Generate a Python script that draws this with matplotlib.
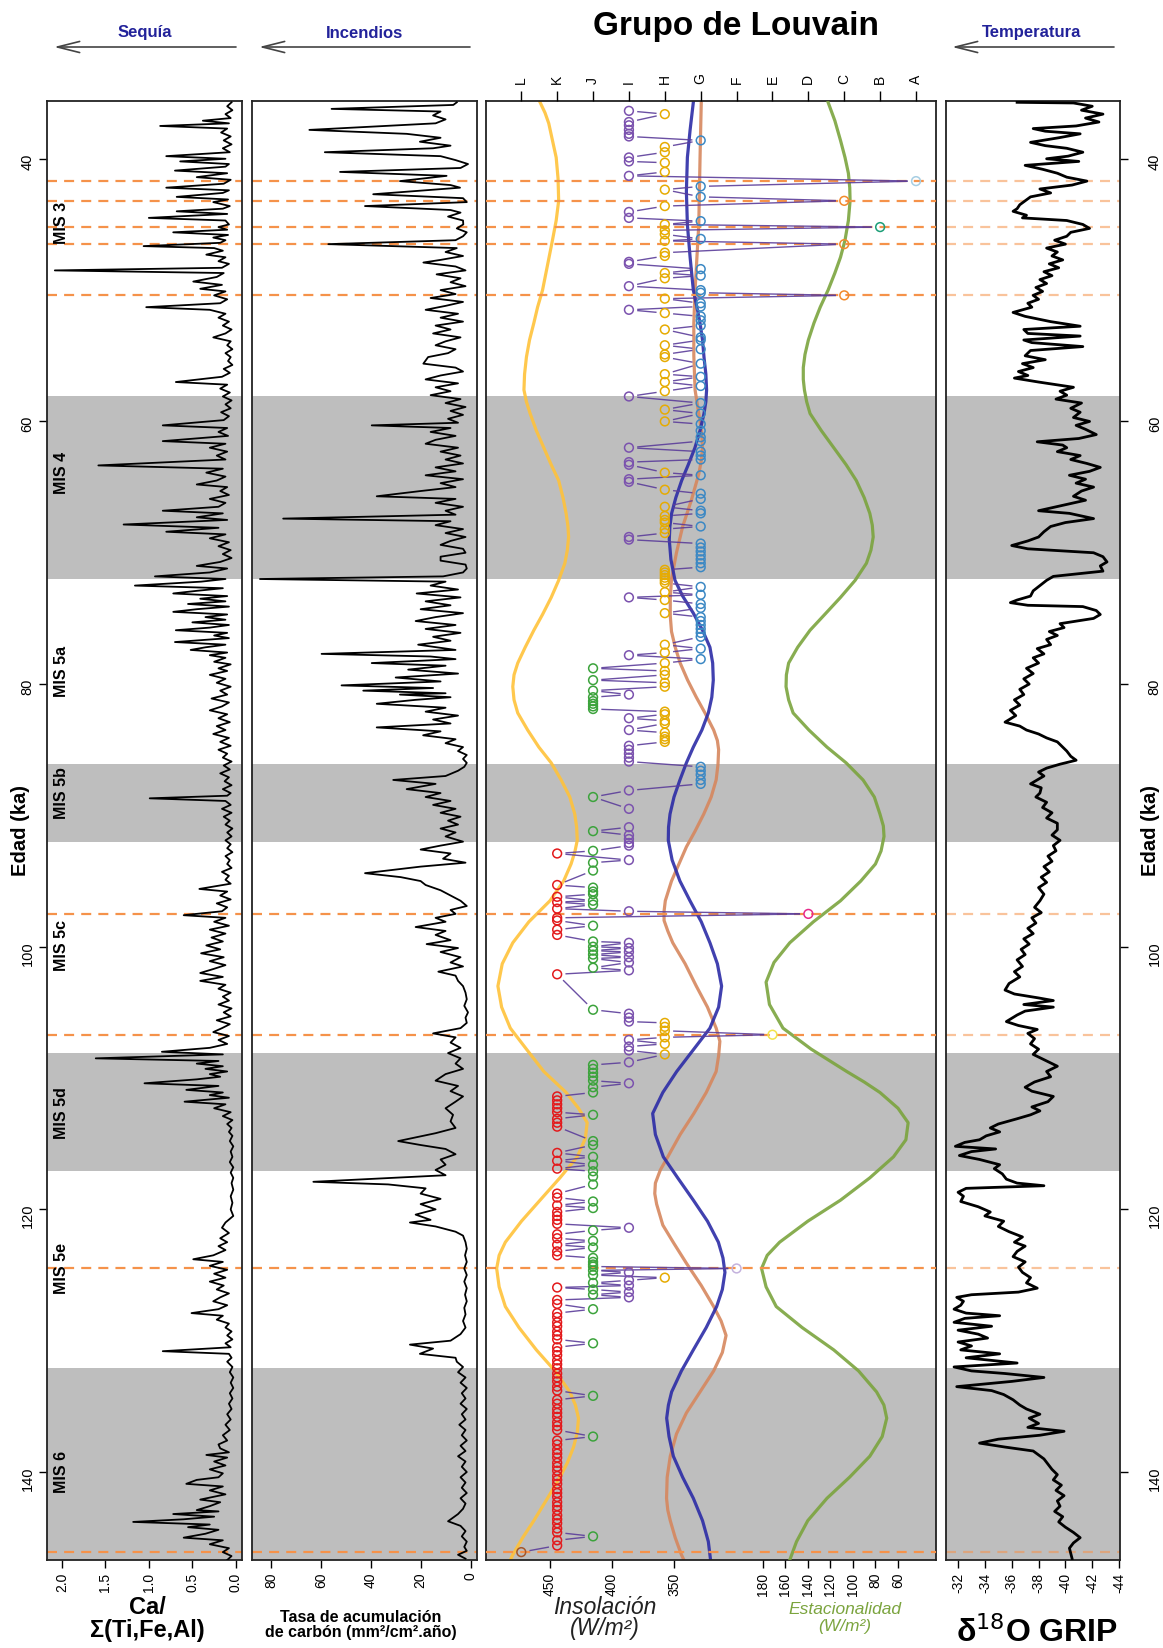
import numpy as np
import matplotlib.pyplot as plt

plt.rcParams['font.family'] = ['Liberation Sans', 'DejaVu Sans']
plt.rcParams['axes.unicode_minus'] = False

W, H = 1163, 1648
TOP, BOT = 101, 1560
AGE_LIM = (146.7, 35.6)

# --- Ca / sum(Ti,Fe,Al) ---
ca_age = [35.7, 36.0, 36.3, 36.6, 36.9, 37.1, 37.3, 37.5, 37.7, 38.0,
          38.3, 38.6, 38.9, 39.2, 39.5, 39.8, 40.0, 40.2, 40.4, 40.6,
          40.9, 41.1, 41.4, 41.6, 41.9, 42.2, 42.4, 42.6, 42.9, 43.1,
          43.3, 43.6, 43.8, 44.0, 44.2, 44.5, 44.7, 45.0, 45.2, 45.4,
          45.6, 45.8, 46.0, 46.2, 46.4, 46.65, 46.8, 47.0, 47.3, 47.5,
          47.8, 48.0, 48.3, 48.5, 48.7, 49.0, 49.35, 49.6, 49.9, 50.1,
          50.4, 50.7, 51.0, 51.3, 51.5, 51.8, 52.1, 52.4, 52.7, 53.0,
          53.3, 53.6, 53.9, 54.2, 54.5, 54.8, 55.1, 55.4, 55.7, 56.0,
          56.3, 56.6, 57.0, 57.2, 57.5, 57.8, 58.1, 58.4, 58.7, 59.0,
          59.3, 59.6, 59.9, 60.3, 60.5, 60.8, 61.1, 61.5, 61.7, 62.0,
          62.3, 62.6, 62.9, 63.35, 63.6, 63.9, 64.2, 64.5, 64.8, 65.0,
          65.3, 65.6, 65.9, 66.2, 66.5, 66.8, 67.0, 67.3, 67.5, 67.85,
          68.1, 68.4, 68.6, 68.9, 69.2, 69.5, 69.8, 70.1, 70.4, 70.7,
          71.0, 71.2, 71.5, 71.8, 72.0, 72.2, 72.5, 72.7, 72.9, 73.1,
          73.3, 73.5, 73.7, 73.9, 74.1, 74.3, 74.5, 74.7, 74.9, 75.1,
          75.3, 75.5, 75.7, 75.9, 76.1, 76.3, 76.5, 76.8, 77.0, 77.2,
          77.4, 77.6, 77.8, 78.0, 78.3, 78.5, 78.8, 79.0, 79.3, 79.6,
          79.9, 80.2, 80.5, 80.8, 81.1, 81.4, 81.7, 82.0, 82.3, 82.6,
          82.9, 83.2, 83.5, 83.8, 84.1, 84.4, 84.7, 85.0, 85.3, 85.6,
          85.9, 86.2, 86.5, 86.8, 87.1, 87.4, 87.7, 88.0, 88.3, 88.5,
          88.7, 88.9, 89.2, 89.5, 89.8, 90.1, 90.4, 90.7, 91.0, 91.3,
          91.6, 91.9, 92.2, 92.5, 92.8, 93.1, 93.4, 93.7, 94.0, 94.3,
          94.6, 94.9, 95.2, 95.6, 95.8, 96.1, 96.4, 96.7, 97.0, 97.3,
          97.6, 97.8, 98.1, 98.4, 98.7, 99.0, 99.3, 99.6, 99.9, 100.2,
          100.5, 100.8, 101.1, 101.4, 101.7, 102.0, 102.3, 102.6, 102.9, 103.2,
          103.5, 103.8, 104.1, 104.4, 104.7, 105.0, 105.3, 105.6, 105.9, 106.2,
          106.5, 106.8, 107.1, 107.4, 107.7, 108.0, 108.2, 108.5, 108.7, 108.9,
          109.1, 109.3, 109.5, 109.7, 109.9, 110.1, 110.4, 110.6, 110.9, 111.1,
          111.3, 111.5, 111.8, 112.0, 112.3, 112.6, 112.9, 113.2, 113.5, 113.8,
          114.1, 114.4, 114.8, 115.2, 115.6, 116.0, 116.4, 116.8, 117.2, 117.6,
          118.0, 118.5, 119.0, 119.5, 120.0, 120.5, 121.0, 121.4, 121.8, 122.2,
          122.5, 122.8, 123.1, 123.5, 123.8, 124.0, 124.3, 124.6, 124.9, 125.2,
          125.5, 125.8, 126.1, 126.4, 126.7, 127.0, 127.3, 127.6, 127.9, 128.1,
          128.4, 128.7, 129.0, 129.3, 129.6, 129.9, 130.2, 130.5, 130.8, 131.0,
          131.3, 131.6, 132.0, 132.4, 132.8, 133.2, 133.6, 134.0, 134.4, 134.8,
          135.2, 135.6, 136.0, 136.4, 136.8, 137.2, 137.6, 137.9, 138.2, 138.5,
          138.7, 138.9, 139.2, 139.5, 139.8, 140.1, 140.4, 140.6, 140.9, 141.1,
          141.4, 141.7, 142.1, 142.3, 142.6, 142.9, 143.0, 143.2, 143.4, 143.6,
          143.8, 144.0, 144.2, 144.4, 144.7, 145.0, 145.2, 145.5, 145.8, 146.1,
          146.4, 146.7]
ca_val = [0.05, 0.10, 0.04, 0.12, 0.06, 0.38, 0.08, 0.87, 0.10, 0.17,
          0.06, 0.14, 0.05, 0.15, 0.07, 0.80, 0.12, 0.64, 0.08, 0.12,
          0.70, 0.10, 0.45, 0.06, 0.14, 0.80, 0.08, 0.15, 0.68, 0.09,
          0.26, 0.07, 0.15, 0.68, 0.10, 1.00, 0.12, 0.08, 0.20, 0.10,
          0.72, 0.09, 0.26, 0.12, 0.18, 1.06, 0.25, 0.15, 0.34, 0.12,
          0.20, 0.08, 0.16, 2.08, 0.14, 0.22, 0.49, 0.16, 0.41, 0.12,
          0.25, 0.10, 0.18, 1.03, 0.30, 0.12, 0.20, 0.08, 0.15, 0.05,
          0.12, 0.26, 0.06, 0.10, 0.04, 0.12, 0.06, 0.09, 0.04, 0.14,
          0.07, 0.16, 0.69, 0.10, 0.18, 0.07, 0.15, 0.05, 0.12, 0.06,
          0.17, 0.08, 0.14, 0.84, 0.10, 0.20, 0.09, 0.84, 0.12, 0.30,
          0.10, 0.22, 0.12, 1.58, 0.15, 0.34, 0.12, 0.22, 0.45, 0.10,
          0.18, 0.08, 0.30, 0.12, 0.20, 0.84, 0.15, 0.45, 0.10, 1.29,
          0.20, 0.80, 0.12, 0.30, 0.08, 0.20, 0.06, 0.15, 0.05, 0.18,
          0.45, 0.10, 0.30, 0.93, 0.12, 0.40, 1.16, 0.15, 0.45, 0.72,
          0.10, 0.41, 0.12, 0.55, 0.08, 0.45, 0.72, 0.10, 0.35, 0.12,
          0.50, 0.08, 0.30, 0.69, 0.10, 0.25, 0.08, 0.70, 0.12, 0.35,
          0.52, 0.10, 0.30, 0.12, 0.25, 0.06, 0.20, 0.10, 0.30, 0.12,
          0.22, 0.06, 0.18, 0.10, 0.28, 0.08, 0.16, 0.30, 0.10, 0.20,
          0.07, 0.22, 0.12, 0.26, 0.08, 0.18, 0.06, 0.20, 0.10, 0.15,
          0.05, 0.14, 0.07, 0.18, 0.08, 0.13, 0.05, 0.15, 0.06, 0.10,
          0.99, 0.12, 0.06, 0.16, 0.05, 0.14, 0.07, 0.12, 0.04, 0.10,
          0.05, 0.12, 0.06, 0.10, 0.04, 0.12, 0.07, 0.10, 0.05, 0.16,
          0.08, 0.12, 0.06, 0.42, 0.10, 0.18, 0.06, 0.22, 0.10, 0.16,
          0.60, 0.12, 0.25, 0.08, 0.30, 0.12, 0.28, 0.15, 0.34, 0.18,
          0.40, 0.14, 0.30, 0.12, 0.26, 0.41, 0.15, 0.41, 0.12, 0.20,
          0.06, 0.15, 0.08, 0.20, 0.05, 0.14, 0.06, 0.22, 0.07, 0.16,
          0.26, 0.08, 0.20, 0.10, 0.30, 0.85, 0.15, 1.61, 0.20, 0.45,
          0.15, 0.35, 0.10, 0.30, 0.18, 0.45, 1.05, 0.20, 0.57, 0.15,
          0.30, 0.08, 0.59, 0.12, 0.25, 0.06, 0.15, 0.04, 0.10, 0.05,
          0.08, 0.04, 0.07, 0.03, 0.06, 0.04, 0.07, 0.03, 0.06, 0.03,
          0.05, 0.03, 0.06, 0.04, 0.06, 0.03, 0.12, 0.16, 0.08, 0.18,
          0.10, 0.20, 0.12, 0.26, 0.49, 0.15, 0.30, 0.10, 0.25, 0.12,
          0.30, 0.14, 0.22, 0.08, 0.18, 0.26, 0.10, 0.20, 0.51, 0.15,
          0.22, 0.08, 0.12, 0.05, 0.10, 0.04, 0.12, 0.06, 0.84, 0.08,
          0.05, 0.10, 0.04, 0.07, 0.03, 0.06, 0.03, 0.07, 0.04, 0.08,
          0.05, 0.10, 0.06, 0.12, 0.07, 0.15, 0.10, 0.20, 0.18, 0.08,
          0.34, 0.10, 0.25, 0.12, 0.30, 0.15, 0.20, 0.45, 0.57, 0.15,
          0.30, 0.12, 0.41, 0.18, 0.30, 0.45, 0.20, 0.72, 0.25, 0.60,
          1.18, 0.30, 0.55, 0.20, 0.35, 0.60, 0.15, 0.30, 0.08, 0.15,
          0.05, 0.10]

# --- charcoal accumulation rate ---
carb_age = [35.7, 35.9, 36.2, 36.4, 36.7, 37.0, 37.3, 37.8, 38.1, 38.4,
            38.7, 39.0, 39.2, 39.5, 39.8, 40.1, 40.4, 40.7, 41.0, 41.3,
            41.7, 42.0, 42.2, 42.7, 43.0, 43.3, 43.6, 43.9, 44.1, 44.4,
            44.7, 45.0, 45.3, 45.6, 45.9, 46.2, 46.5, 46.8, 47.1, 47.4,
            47.7, 47.9, 48.2, 48.5, 48.8, 49.1, 49.4, 49.7, 50.0, 50.3,
            50.6, 50.9, 51.2, 51.5, 51.8, 52.1, 52.4, 52.7, 53.0, 53.3,
            53.6, 53.9, 54.2, 54.5, 54.8, 55.1, 55.6, 55.9, 56.2, 56.5,
            56.8, 57.1, 57.4, 57.7, 58.0, 58.3, 58.6, 58.9, 59.2, 59.5,
            59.8, 60.1, 60.3, 60.5, 60.8, 61.1, 61.4, 61.7, 62.0, 62.3,
            62.6, 62.9, 63.2, 63.5, 63.8, 64.1, 64.4, 64.7, 65.0, 65.3,
            65.7, 65.9, 66.2, 66.5, 66.8, 67.1, 67.4, 67.6, 67.9, 68.2,
            68.5, 68.8, 69.1, 69.4, 69.7, 70.0, 70.3, 70.6, 70.9, 71.2,
            71.5, 71.8, 72.0, 72.2, 72.5, 72.8, 73.1, 73.4, 73.7, 74.0,
            74.3, 74.6, 74.9, 75.2, 75.5, 75.8, 76.1, 76.4, 76.7, 77.0,
            77.4, 77.7, 77.9, 78.1, 78.4, 78.6, 78.9, 79.2, 79.5, 79.8,
            80.1, 80.3, 80.5, 80.7, 80.8, 81.0, 81.2, 81.5, 81.8, 82.1,
            82.4, 82.7, 83.0, 83.3, 83.6, 83.9, 84.2, 84.5, 84.8, 85.1,
            85.4, 85.7, 86.0, 86.3, 86.6, 87.0, 87.3, 87.6, 88.0, 88.3,
            88.6, 88.9, 89.2, 89.5, 89.8, 90.1, 90.4, 90.7, 91.0, 91.3,
            91.6, 92.0, 92.3, 92.6, 92.9, 93.3, 93.6, 93.9, 94.4, 94.7,
            95.0, 95.3, 95.7, 96.1, 96.5, 96.9, 97.2, 97.5, 97.8, 98.1,
            98.5, 98.8, 99.1, 99.5, 99.8, 100.1, 100.4, 100.8, 101.2, 101.5,
            101.9, 102.2, 102.6, 103.0, 103.5, 104.0, 104.5, 105.0, 105.4, 105.8,
            106.2, 106.6, 106.9, 107.3, 107.7, 108.1, 108.5, 108.9, 109.3, 109.7,
            110.2, 110.6, 111.0, 111.4, 111.8, 112.3, 112.8, 113.3, 113.8, 114.2,
            114.8, 115.1, 115.4, 115.8, 116.2, 116.6, 117.0, 117.4, 117.9, 118.1,
            118.4, 118.8, 119.2, 119.6, 120.0, 120.4, 120.8, 121.0, 121.3, 121.7,
            122.0, 122.5, 123.0, 123.5, 124.0, 124.5, 125.0, 125.5, 126.0, 126.5,
            127.0, 127.5, 128.0, 128.5, 129.0, 129.5, 130.0, 130.3, 130.6, 131.0,
            131.3, 131.6, 132.0, 132.4, 132.8, 133.2, 133.6, 134.0, 134.4, 134.8,
            135.2, 135.6, 136.0, 136.4, 136.8, 137.2, 137.6, 138.0, 138.4, 138.8,
            139.2, 139.6, 140.0, 140.4, 140.8, 141.2, 141.6, 142.0, 142.4, 142.8,
            143.2, 143.75, 144.1, 144.5, 144.9, 145.3, 145.7, 146.0, 146.3, 146.6]
carb_val = [5.5, 6.9, 55.7, 12, 15, 10, 14, 64.6, 25.6, 12,
            20.3, 8, 15, 58.4, 12, 6, 1, 4, 52.3, 9.6,
            28.3, 8, 4.2, 39.0, 3, 1.5, 42.3, 8, 4, 9,
            3, 2.9, 5.5, 1.5, 3, 6, 57.0, 5.5, 10, 3,
            12, 18.9, 6, 2, 13.6, 4, 8, 2, 12, 6,
            16, 3, 10, 18, 5, 12, 3, 14, 8, 15,
            4, 10, 14, 6, 9, 17, 18.9, 6, 3, 12,
            18, 5, 14, 8, 16, 4, 10, 2, 8, 3,
            9, 5, 39.6, 8, 16, 6, 14, 18, 5, 12,
            4, 10, 3, 14, 6, 18, 3, 12, 6, 20,
            37.6, 6, 14, 3, 10, 6, 75.1, 8, 14, 3,
            10, 2, 8, 12, 3, 2, 12, 12, 2, 1.5,
            3, 11, 84.4, 10, 16, 5, 21.6, 4, 18, 8,
            20, 3, 14, 22, 6, 18, 4, 15, 8, 21,
            6, 59.7, 16, 6, 39.6, 10, 25, 5, 30, 12,
            51.7, 15, 43.0, 10, 28.3, 8, 22, 37.6, 10, 18,
            5, 15, 8, 37.6, 12, 19, 6, 10, 3, 5,
            1.5, 3, 1.5, 2.5, 5, 10, 31.0, 14, 25.6, 12,
            18, 8, 15, 6, 12, 4, 9, 5, 12, 6,
            10, 3, 12, 20, 8, 11, 2, 20, 42.3, 28,
            20, 18, 12, 8, 4, 1.5, 8, 6, 14, 10,
            22, 10, 14, 8, 17.6, 5, 12, 4, 8, 3,
            12.9, 6, 5, 3, 2, 1.5, 2.5, 1, 2, 1.5,
            4, 15, 6, 8, 4, 9, 4, 6, 3, 10,
            14, 5, 8, 3, 6, 10, 7, 8, 6, 14,
            29, 20, 10, 6, 12, 10, 14, 10, 63.0, 33,
            18, 20, 12, 20, 14, 22, 16, 24.3, 14, 6,
            3, 2, 1.5, 2.2, 1.5, 2.5, 1.5, 2.5, 1.5, 2.2,
            1.5, 2.5, 2, 3, 2, 4, 8, 24.3, 15, 20.3,
            6, 5.5, 3, 5, 2, 4, 1.5, 3.5, 2, 4,
            1.5, 3.5, 2, 4.5, 2, 3.5, 1.5, 4, 2, 5,
            2, 3.5, 1.5, 4, 2, 3.5, 1.5, 4, 2, 3,
            5, 9, 4, 2, 3.5, 1.5, 2.5, 1.5, 5, 2]

# --- GRIP d18O ---
grip_age = [35.7, 35.75, 36.0, 36.3, 36.6, 36.9, 37.2, 37.5, 37.7, 37.9,
            38.1, 38.4, 38.75, 39.0, 39.2, 39.5, 39.8, 40.0, 40.2, 40.5,
            40.8, 41.1, 41.4, 41.7, 42.0, 42.3, 42.6, 42.9, 43.2, 43.5,
            43.8, 44.0, 44.3, 44.5, 44.7, 45.0, 45.3, 45.6, 45.9, 46.2,
            46.5, 46.8, 47.1, 47.4, 47.7, 48.0, 48.3, 48.6, 48.9, 49.2,
            49.5, 49.8, 50.1, 50.4, 50.7, 51.0, 51.3, 51.7, 52.0, 52.4,
            52.75, 53.0, 53.3, 53.5, 53.8, 54.0, 54.3, 54.6, 55.0, 55.3,
            55.6, 55.9, 56.2, 56.5, 56.7, 57.0, 57.4, 57.7, 58.0, 58.3,
            58.6, 59.0, 59.3, 59.7, 60.0, 60.3, 60.6, 61.0, 61.3, 61.55,
            61.8, 62.0, 62.3, 62.6, 62.9, 63.2, 63.5, 63.8, 64.1, 64.4,
            64.7, 65.0, 65.3, 65.7, 66.0, 66.3, 66.8, 67.0, 67.4, 67.7,
            68.0, 68.4, 68.8, 69.1, 69.45, 69.7, 70.0, 70.3, 70.7, 71.0,
            71.4, 71.8, 72.1, 72.5, 72.9, 73.3, 73.6, 73.8, 74.0, 74.1,
            74.4, 74.7, 75.0, 75.4, 75.7, 76.0, 76.3, 76.6, 77.0, 77.3,
            77.7, 78.0, 78.4, 78.8, 79.2, 79.6, 80.0, 80.4, 80.8, 81.2,
            81.6, 82.0, 82.4, 82.9, 83.2, 83.5, 83.8, 84.1, 84.4, 84.8,
            85.1, 85.5, 85.8, 86.1, 86.4, 86.7, 87.0, 87.3, 87.6, 87.9,
            88.3, 88.6, 89.0, 89.4, 89.8, 90.2, 90.6, 91.1, 91.5, 91.9,
            92.3, 92.7, 93.1, 93.5, 93.9, 94.3, 94.7, 95.1, 95.5, 96.0,
            96.5, 97.0, 97.4, 97.8, 98.2, 98.6, 99.0, 99.4, 99.8, 100.2,
            100.6, 101.0, 101.5, 101.9, 102.3, 102.8, 103.3, 103.6, 103.9, 104.1,
            104.4, 104.6, 104.9, 105.2, 105.7, 106.0, 106.3, 106.6, 107.0, 107.4,
            107.8, 108.2, 108.6, 109.1, 109.5, 109.9, 110.3, 110.7, 111.0, 111.4,
            111.8, 112.2, 112.5, 112.8, 113.1, 113.5, 113.8, 114.1, 114.4, 114.7,
            114.9, 115.2, 115.4, 115.6, 115.9, 116.2, 116.6, 116.9, 117.3, 117.7,
            118.0, 118.2, 118.4, 118.7, 119.0, 119.4, 119.8, 120.2, 120.5, 120.9,
            121.3, 121.7, 122.1, 122.5, 122.8, 123.2, 123.6, 124.0, 124.4, 124.8,
            125.2, 125.6, 126.0, 126.3, 126.5, 126.7, 127.0, 127.3, 127.6, 127.9,
            128.1, 128.3, 128.6, 128.9, 129.2, 129.5, 129.8, 130.1, 130.4, 130.7,
            131.0, 131.3, 131.7, 132.0, 132.3, 132.5, 132.8, 133.1, 133.5, 133.8,
            134.1, 134.5, 134.9, 135.2, 135.6, 135.9, 136.3, 136.6, 136.9, 137.2,
            137.5, 137.8, 138.1, 138.4, 138.7, 139.0, 139.4, 139.8, 140.2, 140.6,
            141.0, 141.4, 141.8, 142.2, 142.6, 143.0, 143.4, 143.8, 144.2, 144.6,
            145.0, 145.4, 145.8, 146.2, 146.6]
grip_val = [-36.4, -40.6, -42.0, -41.2, -42.8, -41.5, -42.5, -40.8, -37.6, -38.5,
            -41.1, -39.5, -37.4, -38.5, -40.1, -41.3, -40.2, -38.6, -41.0, -37.0,
            -38.3, -39.4, -40.1, -41.6, -40.5, -38.1, -38.9, -37.4, -37.0, -36.6,
            -36.4, -36.1, -37.1, -36.8, -40.1, -41.3, -41.8, -40.4, -40.1, -39.2,
            -40.0, -38.6, -39.4, -39.0, -39.8, -38.8, -39.5, -38.4, -39.0, -38.1,
            -38.6, -37.8, -38.3, -37.6, -38.0, -37.2, -37.5, -36.1, -37.0, -38.9,
            -41.1, -36.9, -37.2, -41.1, -36.9, -37.5, -41.3, -37.4, -37.0, -38.5,
            -36.8, -37.6, -36.5, -37.2, -36.2, -38.0, -40.6, -39.6, -40.1, -39.3,
            -41.2, -40.4, -41.1, -40.6, -41.8, -40.8, -41.5, -42.3, -41.0, -37.9,
            -39.8, -40.1, -39.4, -41.1, -40.4, -41.6, -42.6, -41.8, -40.3, -41.5,
            -40.8, -42.1, -41.2, -40.6, -41.5, -40.2, -38.0, -40.3, -42.1, -40.0,
            -38.9, -38.4, -38.0, -37.2, -36.0, -37.2, -42.1, -42.8, -43.1, -42.6,
            -42.8, -39.1, -38.6, -38.1, -37.6, -37.4, -36.4, -35.9, -37.2, -41.3,
            -42.3, -42.6, -42.1, -39.6, -39.9, -38.8, -39.4, -38.6, -38.9, -37.9,
            -38.4, -37.6, -38.0, -37.1, -37.6, -36.9, -37.3, -36.6, -36.9, -36.2,
            -36.6, -35.9, -36.3, -35.5, -36.6, -37.1, -38.0, -38.6, -39.4, -39.8,
            -40.1, -40.4, -40.8, -39.6, -38.6, -38.0, -38.4, -37.9, -37.4, -38.2,
            -38.1, -37.8, -38.6, -38.3, -39.0, -38.6, -39.4, -39.4, -39.0, -39.6,
            -39.1, -39.3, -38.7, -39.0, -38.4, -38.8, -38.2, -38.6, -38.0, -38.4,
            -38.1, -37.7, -38.2, -37.5, -37.8, -37.2, -37.6, -36.9, -37.3, -36.7,
            -37.0, -36.4, -36.8, -36.2, -36.6, -35.8, -35.5, -36.2, -38.0, -39.1,
            -36.9, -39.1, -37.0, -36.4, -35.6, -36.5, -37.9, -37.2, -37.7, -37.4,
            -38.0, -37.6, -38.4, -39.4, -38.6, -38.9, -37.7, -37.0, -37.5, -39.1,
            -38.7, -37.5, -38.1, -37.4, -36.4, -35.0, -34.4, -35.1, -34.1, -33.6,
            -32.5, -31.8, -34.8, -33.0, -32.1, -33.6, -35.1, -34.7, -35.3, -35.6,
            -36.4, -38.4, -32.6, -32.0, -32.4, -32.2, -33.5, -34.4, -34.0, -35.4,
            -35.0, -35.8, -36.8, -36.2, -37.0, -36.4, -36.1, -37.0, -36.5, -36.8,
            -37.4, -37.1, -37.9, -36.5, -33.0, -31.9, -32.4, -32.2, -31.7, -32.6,
            -35.1, -32.5, -31.7, -34.5, -32.0, -33.5, -34.2, -32.0, -33.0, -32.2,
            -35.1, -32.6, -36.4, -31.7, -33.0, -35.5, -38.4, -36.0, -31.9, -34.5,
            -35.4, -36.1, -36.6, -37.1, -38.1, -37.3, -38.0, -37.2, -39.9, -38.1,
            -35.0, -33.6, -35.5, -37.6, -38.0, -38.4, -38.7, -39.0, -39.4, -39.1,
            -39.7, -39.3, -39.9, -39.4, -39.6, -39.2, -39.8, -39.5, -40.0, -40.6,
            -41.1, -40.6, -40.3, -40.4, -40.5]

# --- Louvain insolation (W/m2) ---
insa_age = [35.7, 36.5, 37.3, 38.6, 39.9, 41.5, 43.2, 44.7, 46.2, 48.1,
            50.0, 51.3, 52.5, 53.8, 55.1, 56.4, 57.6, 58.5, 59.4, 60.7,
            62.0, 63.3, 64.5, 65.8, 67.0, 68.0, 68.8, 69.8, 70.8, 72.1,
            73.4, 74.7, 75.9, 77.2, 78.4, 79.3, 80.2, 81.2, 82.2, 83.5,
            84.8, 86.0, 87.3, 88.6, 89.9, 90.9, 91.9, 92.8, 93.7, 95.0,
            96.5, 98.1, 99.7, 101.3, 103.0, 104.6, 106.2, 107.8, 109.5, 111.1,
            112.3, 113.4, 114.6, 116.0, 117.6, 119.3, 120.9, 122.5, 123.5, 124.5,
            125.9, 127.4, 129.0, 130.7, 132.3, 133.9, 134.9, 135.9, 137.0, 138.1,
            139.3, 140.4, 142.0, 143.7, 145.0, 146.3, 146.7]
insa_val = [458, 454, 451, 448, 445, 443.5, 443, 445, 448, 452,
            456, 460, 463, 466.5, 469, 470.5, 471, 469, 466, 461,
            455, 449, 443, 439.5, 437, 435.5, 435, 436, 438, 443,
            449, 456, 463, 470, 476, 479, 480, 479, 476, 468,
            459, 449, 441, 434, 430, 428.5, 428, 430, 433, 439,
            450, 467, 480, 488.5, 492, 489, 482, 469, 455, 437,
            427, 420, 421.5, 428, 442, 458, 473, 486, 491, 493,
            491, 486, 475, 461, 446, 434, 429.5, 427, 428, 431,
            436, 442, 452, 463, 472, 480, 482]

insb_age = [35.7, 37.8, 40.0, 42.5, 45.0, 47.5, 50.0, 52.5, 55.0, 57.6,
            58.8, 60.0, 61.0, 62.0, 63.0, 64.0, 65.0, 66.0, 67.0, 68.0,
            69.0, 70.0, 71.0, 72.0, 73.5, 74.8, 76.0, 77.2, 78.4, 79.7,
            81.0, 82.2, 83.5, 84.3, 85.0, 86.1, 87.3, 88.6, 89.9, 91.2,
            92.4, 93.7, 95.0, 96.5, 97.3, 98.0, 98.8, 99.7, 101.3, 103.0,
            104.6, 106.2, 107.2, 108.3, 109.5, 111.1, 112.7, 114.3, 116.0, 117.0,
            118.0, 118.8, 119.6, 121.2, 122.6, 124.1, 125.8, 127.4, 128.5, 129.6,
            130.9, 132.3, 133.9, 135.5, 137.1, 138.8, 140.4, 142.0, 142.9, 143.7,
            145.0, 146.3, 146.7]
insb_val = [328, 328.5, 329, 329.5, 330, 331.5, 333, 334, 334, 333,
            331, 329, 327.5, 327, 328, 330, 333, 336, 339.5, 343,
            345.5, 348, 350, 352, 353, 353, 352, 349, 345, 339,
            332, 325, 318, 315, 314, 314.5, 316, 320, 326, 333,
            340, 346, 352, 357, 358, 358, 355, 351, 341, 332,
            323, 316, 313, 314, 316, 324, 334, 345, 355, 361,
            365, 365.5, 364, 359, 350, 340, 328, 318, 312, 308,
            311, 318, 329, 340, 348, 353, 355.5, 356, 355, 353,
            349, 344, 342]

insc_age = [35.7, 37.8, 39.9, 42.5, 45.0, 47.5, 50.0, 51.3, 52.5, 53.8,
            55.1, 56.4, 57.6, 58.5, 59.4, 60.7, 62.0, 63.3, 64.5, 65.8,
            67.0, 68.0, 69.0, 70.5, 72.1, 73.3, 74.6, 75.9, 77.2, 78.4,
            79.7, 81.0, 82.2, 83.5, 84.8, 86.0, 87.3, 88.6, 89.9, 90.9,
            91.9, 93.4, 95.0, 96.5, 98.1, 99.7, 101.3, 103.0, 104.6, 106.2,
            107.8, 109.5, 111.1, 112.7, 114.3, 116.0, 117.6, 119.3, 120.9, 122.5,
            123.7, 124.8, 126.1, 127.4, 129.0, 130.7, 132.3, 133.9, 134.9, 135.9,
            137.3, 138.8, 140.4, 142.0, 143.7, 145.3, 146.7]
insc_val = [334.4, 337, 339.2, 340, 339.2, 337, 334.4, 331.5, 329, 327,
            325.8, 324.3, 323.7, 324.3, 325.8, 329, 333.1, 338.5, 343.8, 348.5,
            351.9, 353.3, 353.8, 352.5, 349.2, 343, 334.4, 327, 321, 318.8,
            318.3, 319.5, 322.3, 327.5, 334.4, 340, 345.2, 350, 353.2, 354.4,
            354.6, 351.5, 345.2, 337.1, 328, 321, 315, 311.6, 314, 321,
            334, 347.8, 359, 367.2, 365, 358.6, 347, 334.4, 323, 314.2,
            310.5, 308.9, 311, 315.6, 324, 334.4, 344, 351.9, 354.5, 355.9,
            354, 350.5, 343, 334.4, 327, 322.3, 320.5]

# --- seasonality (W/m2) ---
seas_age = [35.7, 37.1, 38.6, 39.9, 41.1, 42.2, 43.2, 44.7, 46.2, 47.5,
            48.7, 50.0, 51.3, 52.5, 53.8, 54.9, 55.9, 56.8, 57.6, 58.5,
            59.4, 60.7, 62.0, 63.3, 64.5, 65.8, 67.0, 67.9, 68.8, 69.8,
            70.8, 72.1, 73.4, 74.7, 75.9, 77.2, 78.4, 79.3, 80.2, 81.2,
            82.2, 83.5, 84.8, 86.0, 87.3, 88.6, 89.9, 90.8, 91.6, 92.7,
            93.7, 95.0, 96.5, 98.1, 99.7, 101.2, 102.7, 104.4, 106.2, 107.8,
            109.5, 110.3, 111.1, 112.3, 113.4, 114.7, 116.0, 117.6, 119.3, 120.9,
            122.5, 123.5, 124.5, 125.9, 127.4, 129.0, 130.7, 132.3, 133.9, 134.9,
            135.9, 137.3, 138.8, 140.4, 142.0, 143.7, 145.3, 146.7]
seas_val = [122, 116, 111, 107, 104, 102.8, 102.5, 104, 107, 111,
            116, 122, 129, 134.5, 139.5, 142.5, 144, 144, 143, 141,
            138, 128, 117, 106, 97, 90, 85, 82.8, 82, 84,
            88, 98, 111, 125, 138, 149, 157, 159, 159.3, 157,
            153, 139, 123, 106, 91, 81, 76, 73, 72.4, 75,
            80, 93, 111, 135, 156, 170, 177, 174, 162, 137,
            105.5, 90, 76, 60, 51, 53, 64, 85, 111, 140,
            165, 176, 181, 177, 168, 145, 117, 95, 79, 72.5,
            70, 74, 85, 103, 123, 140, 150, 156]

# --- Louvain cluster sequence (A-L) ---
clu_age = [36.35, 36.6, 37.2, 37.45, 37.8, 38.1, 38.3, 38.6, 39.1, 39.5,
           39.9, 40.2, 40.3, 41.0, 41.3, 41.7, 42.1, 42.35, 42.9, 43.2,
           43.6, 44.05, 44.5, 44.75, 45.0, 45.2, 45.45, 45.75, 46.1, 46.25,
           46.5, 47.15, 47.4, 47.85, 48.0, 48.4, 48.7, 48.9, 49.1, 49.7,
           50.0, 50.2, 50.4, 50.65, 51.0, 51.25, 51.5, 51.75, 52.0, 52.3,
           52.7, 53.0, 53.6, 53.8, 54.2, 54.5, 54.9, 55.1, 55.6, 56.4,
           56.6, 57.0, 57.3, 57.7, 58.1, 58.6, 59.1, 59.4, 60.0, 60.2,
           60.7, 61.2, 61.5, 62.0, 62.3, 62.6, 62.9, 63.1, 63.3, 63.9,
           64.1, 64.4, 64.6, 65.2, 65.5, 65.9, 66.5, 66.8, 67.0, 67.2,
           67.5, 67.7, 68.0, 68.2, 68.5, 68.8, 69.0, 69.3, 69.6, 69.9,
           70.2, 70.5, 70.8, 71.1, 71.3, 71.5, 71.7, 71.9, 72.1, 72.3,
           72.6, 73.0, 73.2, 73.4, 73.6, 73.9, 74.2, 74.6, 74.9, 75.2,
           75.5, 75.8, 76.1, 76.4, 77.0, 77.3, 77.6, 77.8, 78.1, 78.4,
           78.8, 79.0, 79.3, 79.7, 79.9, 80.2, 80.5, 80.8, 81.0, 81.3,
           81.5, 81.7, 81.9, 82.1, 82.3, 82.6, 82.8, 83.0, 83.5, 83.7,
           84.0, 84.2, 84.4, 84.7, 85.0, 85.3, 85.6, 85.9, 86.3, 86.6,
           86.9, 87.3, 87.6, 88.1, 88.6, 89.5, 90.9, 91.2, 91.5, 91.8,
           92.1, 92.3, 92.7, 92.9, 93.4, 93.6, 94.2, 95.3, 95.5, 95.8,
           96.0, 96.2, 96.5, 96.6, 96.8, 97.1, 97.3, 97.5, 97.8, 98.0,
           98.4, 98.7, 99.1, 99.6, 99.7, 100.0, 100.1, 100.3, 100.4, 100.6,
           100.8, 100.9, 101.2, 101.6, 101.8, 102.1, 104.8, 105.1, 105.4, 105.7,
           105.8, 106.1, 106.4, 106.7, 106.9, 107.1, 107.4, 107.6, 107.9, 108.2,
           108.8, 109.0, 109.3, 109.6, 109.9, 110.2, 110.4, 110.7, 111.1, 111.4,
           111.7, 112.0, 112.3, 112.6, 112.8, 113.1, 113.4, 113.7, 114.8, 115.1,
           115.7, 116.0, 116.3, 116.6, 116.9, 117.1, 117.5, 118.1, 118.8, 119.1,
           119.4, 119.7, 119.9, 120.2, 120.5, 120.8, 121.1, 121.4, 121.6, 121.9,
           122.2, 122.4, 122.7, 122.9, 123.2, 123.5, 123.7, 124.0, 124.2, 124.35,
           124.5, 124.65, 124.8, 125.0, 125.2, 125.4, 125.6, 125.8, 125.95, 126.1,
           126.3, 126.5, 126.7, 126.9, 127.2, 127.6, 127.9, 128.2, 128.6, 128.9,
           129.3, 129.6, 129.9, 130.2, 130.5, 130.8, 131.1, 131.5, 131.8, 132.1,
           132.5, 132.8, 133.1, 133.5, 133.8, 134.2, 134.5, 134.8, 135.2, 135.5,
           135.8, 136.2, 136.5, 136.8, 137.3, 137.6, 137.9, 138.3, 138.6, 138.9,
           139.3, 139.6, 139.9, 140.3, 140.6, 140.9, 141.3, 141.6, 141.9, 142.3,
           142.6, 142.9, 143.3, 143.6, 143.9, 144.3, 144.6, 144.9, 145.2, 145.6,
           146.1]
clu_grp = list(
    "IHIIIIIGHH"
    "IIHHIAGHGC"
    "HIIGHBHHGH"
    "CHHIIGHGHI"
    "GGCHGGIHGG"
    "GHGGHGHHGH"
    "GHGHIGHGHG"
    "GGGIGGGIIH"
    "GIIHGGHGGH"
    "HHGHHIIGGG"
    "GGGGHHHHHH"
    "GHGIHGGHGG"
    "GGGGHGHIGH"
    "JHHJHHJIJJ"
    "JJJHHIHHIH"
    "HHHIIIIIGG"
    "GGGIJIIJII"
    "IIJKIJJKJJ"
    "JKJKJKIDKK"
    "JKKJIJIJIJ"
    "IJIJIKJIII"
    "HHHEHIHIIH"
    "IJJJJJIJJK"
    "KKKKJKKKJJ"
    "KJKJKJJJKK"
    "JKJKKKKIJK"
    "KJKJKKJJJJ"
    "FJIJHIJIKJ"
    "IJIKKJKKKK"
    "KKKJKKKKKK"
    "KKKKKJKKKK"
    "KKKKJKKKKK"
    "KKKKKKKKKK"
    "KKKKKKKJKK"
    "L")

mis_bands = [(58.1, 72.0), (86.1, 92.0), (108.1, 117.1), (132.1, 150.0)]
mis_names = ['MIS 3', 'MIS 4', 'MIS 5a', 'MIS 5b', 'MIS 5c', 'MIS 5d', 'MIS 5e', 'MIS 6']
mis_mid = [44.9, 63.9, 79.0, 88.3, 99.9, 112.7, 124.5, 140.0]

age_ticks = [40, 60, 80, 100, 120, 140]
letters = "LKJIHGFEDCBA"
grp_color = {'A': '#a6cee3', 'B': '#1b9e77', 'C': '#f28a2b', 'D': '#e7298a',
             'E': '#f2e34c', 'F': '#c4b2dd', 'G': '#3b88c4', 'H': '#e6ab02',
             'I': '#7b52ae', 'J': '#3ca33c', 'K': '#e31a1c', 'L': '#a65628'}

# event ages = samples that fall in the rare groups
events = [a for a, g in zip(clu_age, clu_grp) if g in 'ABCDEFL']

DASH_COL = '#f5924a'
BLUE_TXT = '#22229a'


def rect(x0, x1):
    return [x0 / W, 1 - BOT / H, (x1 - x0) / W, (BOT - TOP) / H]


def fpos(x, y):
    return x / W, 1 - y / H


def make_panel(x0, x1, xlim):
    ax = fig.add_axes(rect(x0, x1))
    ax.set_xlim(*xlim)
    ax.set_ylim(*AGE_LIM)
    for a, b in mis_bands:
        ax.axhspan(a, b, color='#bebebe', lw=0, zorder=0)
    for s in ax.spines.values():
        s.set_linewidth(1.3)
        s.set_color('#222222')
    ax.tick_params(axis='x', direction='out', length=6, width=1, pad=3,
                   labelrotation=90, labelsize=10)
    ax.set_yticks([])
    return ax


def add_events(ax, alpha=1.0):
    for a in events:
        ax.axhline(a, color=DASH_COL, lw=1.6, ls=(0, (4.5, 3.2)), alpha=alpha, zorder=1)


fig = plt.figure(figsize=(W / 100, H / 100), dpi=100)

# panel 1: Ca / sum(Ti,Fe,Al)
ax1 = make_panel(47, 242, (2.17, -0.07))
add_events(ax1)
ax1.plot(ca_val, ca_age, color='black', lw=1.3, zorder=3)
ax1.set_xticks([2.0, 1.5, 1.0, 0.5, 0.0])
ax1.set_xticklabels(['2.0', '1.5', '1.0', '0.5', '0.0'])
ax1.set_yticks(age_ticks)
ax1.tick_params(axis='y', direction='out', length=6, width=1, pad=3,
                labelrotation=90, labelsize=10.5)
for name, m in zip(mis_names, mis_mid):
    ax1.text(2.0, m, name, rotation=90, ha='center', va='center',
             fontsize=11.5, fontweight='bold', zorder=4)

# panel 2: charcoal
ax2 = make_panel(252, 477, (87.6, -2.6))
add_events(ax2)
ax2.plot(carb_val, carb_age, color='black', lw=1.3, zorder=3)
ax2.set_xticks([80, 60, 40, 20, 0])

# panel 3: Louvain group
ax3 = make_panel(486, 936, (501.6, 138.7))
ax3.set_xticks([450, 400, 350])
ax3.plot(insa_val, insa_age, color='#ffc23a', lw=2.3, alpha=0.9, zorder=2)
ax3.plot(insb_val, insb_age, color='#d6875e', lw=2.3, alpha=0.9, zorder=2)
ax3.plot(insc_val, insc_age, color='#2c2ca6', lw=2.3, alpha=0.9, zorder=2)

axs = ax3.twiny()
axs.set_xlim(425.4, 26.3)
axs.set_ylim(*AGE_LIM)
axs.xaxis.tick_bottom()
axs.set_xticks([180, 160, 140, 120, 100, 80, 60])
axs.tick_params(axis='x', direction='out', length=6, width=1, pad=3,
                labelrotation=90, labelsize=10)
for s in axs.spines.values():
    s.set_visible(False)
axs.plot(seas_val, seas_age, color='#7ba43e', lw=2.3, alpha=0.9, zorder=2)

axc = ax3.twiny()
axc.set_xlim(-0.983, 11.557)
axc.set_ylim(*AGE_LIM)
for s in axc.spines.values():
    s.set_visible(False)
axc.xaxis.tick_top()
axc.set_xticks(range(len(letters)))
axc.set_xticklabels(list(letters))
axc.tick_params(axis='x', direction='out', length=7, width=1, pad=5,
                labelrotation=90, labelsize=10)
add_events(axc)
clu_x = [letters.index(g) for g in clu_grp]
axc.scatter(clu_x, clu_age, s=40, facecolors='none',
            edgecolors=[grp_color[g] for g in clu_grp], linewidths=1.1, zorder=4)

# panel 4: GRIP
ax4 = make_panel(946, 1120, (-31.1, -44.07))
add_events(ax4, alpha=0.55)
ax4.plot(grip_val, grip_age, color='black', lw=2.0, zorder=3)
ax4.set_xticks([-32, -34, -36, -38, -40, -42, -44])
ax4.yaxis.tick_right()
ax4.set_yticks(age_ticks)
ax4.tick_params(axis='y', direction='out', length=6, width=1, pad=14,
                labelrotation=90, labelsize=10.5)

# connecting lines between successive samples, with gaps around the circles
pts = axc.transData.transform(np.column_stack([clu_x, clu_age]))
inv = axc.transData.inverted()
gap = 9.0
for p, q in zip(pts[:-1], pts[1:]):
    d = q - p
    n = np.hypot(d[0], d[1])
    if n <= 2 * gap:
        continue
    u = d / n
    seg = inv.transform(np.vstack([p + u * gap, q - u * gap]))
    axc.plot(seg[:, 0], seg[:, 1], color='#5b3d9a', lw=1.0, alpha=0.9, zorder=3)

# headers
fig.text(*fpos(736, 26), 'Grupo de Louvain', ha='center', va='center',
         fontsize=24, fontweight='bold')
for label, xc, yc, xa, xb in [('Sequía', 145, 33, 54, 236),
                              ('Incendios', 364, 34, 259, 470),
                              ('Temperatura', 1032, 32, 952, 1114)]:
    fig.text(*fpos(xc, yc), label, ha='center', va='center', fontsize=12,
             fontweight='bold', color=BLUE_TXT)
    ax1.annotate('', xy=(xa, H - 47), xytext=(xb, H - 47),
                 xycoords='figure pixels', textcoords='figure pixels',
                 annotation_clip=False,
                 arrowprops=dict(arrowstyle='->,head_length=1.6,head_width=0.4',
                                 color='#444444', lw=1.2, shrinkA=0, shrinkB=0))

# axis titles
fig.text(*fpos(21, 830), 'Edad (ka)', rotation=90, ha='center', va='center',
         fontsize=14.5, fontweight='bold')
fig.text(*fpos(1150, 830), 'Edad (ka)', rotation=90, ha='center', va='center',
         fontsize=14.5, fontweight='bold')
fig.text(*fpos(147, 1607), 'Ca/', ha='center', va='center', fontsize=17,
         fontweight='bold')
fig.text(*fpos(147, 1631), 'Σ(Ti,Fe,Al)', ha='center', va='center', fontsize=17,
         fontweight='bold')
fig.text(*fpos(361, 1617), 'Tasa de acumulación', ha='center', va='center',
         fontsize=11.5, fontweight='bold')
fig.text(*fpos(361, 1632), 'de carbón (mm²/cm².año)', ha='center', va='center',
         fontsize=11.5, fontweight='bold')
fig.text(*fpos(605, 1607), 'Insolación', ha='center', va='center', fontsize=16.5,
         style='italic', color='#222222')
fig.text(*fpos(605, 1629), '(W/m²)', ha='center', va='center', fontsize=16.5,
         style='italic', color='#222222')
fig.text(*fpos(845, 1610), 'Estacionalidad', ha='center', va='center',
         fontsize=12.5, style='italic', color='#7ba43e')
fig.text(*fpos(845, 1626), '(W/m²)', ha='center', va='center',
         fontsize=12.5, style='italic', color='#7ba43e')
fig.text(*fpos(1037, 1633), 'δ$^{18}$O GRIP', ha='center', va='center',
         fontsize=23, fontweight='bold')

fig.savefig('out.png', dpi=100)
